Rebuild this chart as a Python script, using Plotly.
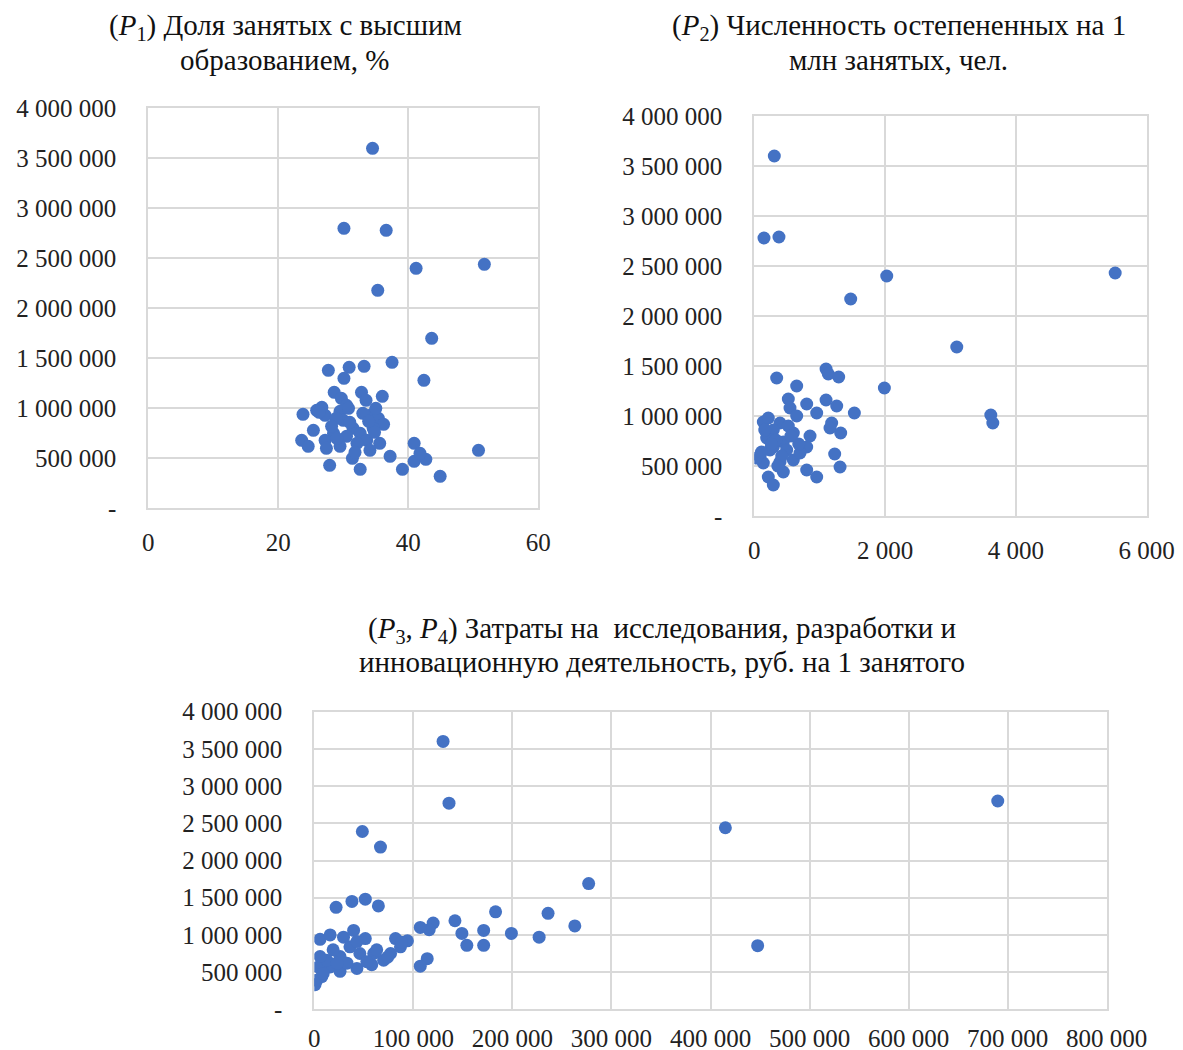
import plotly.graph_objects as go

# P1: share of employed with higher education, %  vs y
p1_x = [34.5, 30.1, 36.6, 41.2, 51.7, 35.3, 43.6, 37.5, 33.2, 30.9, 27.7, 30.1, 42.4, 28.6, 32.8,
        36.0, 33.5, 29.7, 30.5, 23.8, 25.9, 26.7, 27.2, 29.5, 30.0, 34.1, 35.4, 36.2, 25.4, 31.5,
        34.6, 28.5, 32.6, 30.5, 23.6, 24.6, 27.2, 33.6, 35.6, 27.4, 29.5, 32.1, 34.1, 40.9, 50.8,
        37.2, 31.4, 27.9, 32.6, 39.1, 40.9, 42.7, 44.9, 41.8, 28.9, 31.0, 33.0, 34.8, 29.0, 31.8,
        35.0, 26.3, 28.2, 30.8, 33.9]
p1_y = [3600000, 2800000, 2780000, 2400000, 2440000, 2180000, 1700000, 1460000, 1420000, 1410000,
        1380000, 1300000, 1280000, 1160000, 1160000, 1120000, 1080000, 1100000, 1030000, 940000,
        980000, 1010000, 930000, 970000, 880000, 930000, 900000, 840000, 780000, 800000,
        800000, 750000, 750000, 720000, 680000, 620000, 680000, 680000, 650000, 600000,
        620000, 650000, 580000, 650000, 580000, 520000, 500000, 430000, 390000, 390000,
        470000, 490000, 320000, 550000, 900000, 860000, 950000, 760000, 700000, 560000,
        1000000, 960000, 820000, 1000000, 870000]

# P2: number of degree holders per 1 mln employed vs y
p2_x = [306, 148, 377, 2025, 5518, 1474, 3096, 1097, 1132, 1290, 342, 648, 1989, 520, 801,
        1097, 1260, 954, 1530, 546, 648, 3616, 3647, 138, 214, 393, 1183, 1158, 1321, 852,
        597, 291, 189, 444, 801, 291, 87, 1229, 1311, 954, 801, 214, 291, 444, 597,
        138, 393, 699, 495, 240, 36, 330, 520, 160, 260, 420, 680, 110, 360, 560]
p2_y = [3600000, 2780000, 2790000, 2400000, 2430000, 2170000, 1690000, 1470000, 1420000, 1390000,
        1380000, 1300000, 1280000, 1170000, 1120000, 1160000, 1100000, 1030000, 1030000, 1080000,
        1000000, 1010000, 930000, 940000, 980000, 930000, 930000, 880000, 830000, 800000,
        830000, 860000, 780000, 740000, 690000, 690000, 590000, 620000, 490000, 390000,
        460000, 390000, 310000, 440000, 560000, 530000, 540000, 630000, 660000, 660000,
        580000, 760000, 900000, 860000, 720000, 600000, 720000, 640000, 500000, 800000]

# P3, P4: R&D and innovation expenditure, rub per 1 employed vs y
p3_x = [130000, 136000, 48500, 66800, 277000, 183000, 236000, 263000, 142000, 120000,
        116000, 107000, 149000, 154000, 171000, 171000, 199000, 227000, 22000, 38000,
        51500, 64700, 114000, 107000, 5800, 16000, 29500, 39700, 51500, 82000,
        94000, 87000, 77000, 70000, 58000, 43000, 26000, 16000, 4000, 7500,
        700, 2400, 12500, 26000, 36000, 46000, 60000, 19000, 33000, 53000,
        63000, 5800, 23000, 43000, 415000, 447600, 690000, 88000, 74000, 9000]
p3_y = [3600000, 2770000, 2390000, 2180000, 1690000, 1310000, 1290000, 1120000, 1190000, 1160000,
        1070000, 1100000, 1020000, 860000, 1060000, 860000, 1020000, 970000, 1370000, 1450000,
        1480000, 1390000, 680000, 580000, 940000, 1000000, 970000, 1060000, 950000, 950000,
        920000, 840000, 750000, 660000, 600000, 550000, 510000, 570000, 570000, 440000,
        330000, 390000, 660000, 710000, 840000, 750000, 750000, 800000, 620000, 640000,
        800000, 710000, 620000, 910000, 2440000, 855000, 2800000, 900000, 700000, 480000]

y_tickvals = [0, 500000, 1000000, 1500000, 2000000, 2500000, 3000000, 3500000, 4000000]
y_ticktext = ["-", "500 000", "1 000 000", "1 500 000", "2 000 000", "2 500 000",
              "3 000 000", "3 500 000", "4 000 000"]
p1_xticks = [0, 20, 40, 60]
p2_xticks = [0, 2000, 4000, 6000]
p2_xtext = ["0", "2 000", "4 000", "6 000"]
p3_xticks = [0, 100000, 200000, 300000, 400000, 500000, 600000, 700000, 800000]
p3_xtext = ["0", "100 000", "200 000", "300 000", "400 000", "500 000", "600 000",
            "700 000", "800 000"]

title_lines = [
    ["(<i>P</i><sub>1</sub>) Доля занятых с высшим", "образованием, %"],
    ["(<i>P</i><sub>2</sub>) Численность остепененных на 1", "млн занятых, чел."],
    ["(<i>P</i><sub>3</sub>, <i>P</i><sub>4</sub>) Затраты на  исследования, разработки и",
     "инновационную деятельность, руб. на 1 занятого"],
]

W, H = 1183, 1050
FONT = "Liberation Serif"
COLOR = "#4472C4"
GRID = "#d9d9d9"

fig = go.Figure()
fig.add_trace(go.Scatter(x=p1_x, y=p1_y, mode="markers", xaxis="x", yaxis="y",
                         marker=dict(color=COLOR, size=13), showlegend=False))
fig.add_trace(go.Scatter(x=p2_x, y=p2_y, mode="markers", xaxis="x2", yaxis="y2",
                         marker=dict(color=COLOR, size=13), showlegend=False))
fig.add_trace(go.Scatter(x=p3_x, y=p3_y, mode="markers", xaxis="x3", yaxis="y3",
                         marker=dict(color=COLOR, size=13), showlegend=False))


def px_dom(a, b):
    return [a / W, b / W]


def py_dom(top, bottom):
    return [1 - bottom / H, 1 - top / H]


tickfont = dict(family=FONT, size=25, color="#222")


def xax(dom, rng, tv, tt, anchor, standoff=11):
    return dict(domain=dom, range=rng, tickvals=tv, ticktext=tt, showgrid=True,
                gridcolor=GRID, gridwidth=1.5, zeroline=False, showline=True, linecolor=GRID,
                linewidth=2, mirror=True, ticks="", tickfont=tickfont, anchor=anchor,
                ticklabelstandoff=standoff, fixedrange=True)


def yax(dom, anchor):
    return dict(domain=dom, range=[0, 4000000], tickvals=y_tickvals, ticktext=y_ticktext,
                showgrid=True, gridcolor=GRID, gridwidth=1.5, zeroline=False, showline=True,
                linecolor=GRID, linewidth=2, mirror=True, ticks="", tickfont=tickfont,
                anchor=anchor, ticklabelstandoff=25, fixedrange=True)


fig.update_layout(
    width=W, height=H, margin=dict(l=0, r=0, t=0, b=0, autoexpand=False),
    paper_bgcolor="white", plot_bgcolor="white",
    xaxis=xax(px_dom(148.3, 538.3), [0, 60], p1_xticks, [str(v) for v in p1_xticks], "y"),
    yaxis=yax(py_dom(108.3, 508.3), "x"),
    xaxis2=xax(px_dom(754.3, 1146.7), [0, 6000], p2_xticks, p2_xtext, "y2"),
    yaxis2=yax(py_dom(116, 516), "x2"),
    xaxis3=xax(px_dom(314.3, 1106.7), [0, 800000], p3_xticks, p3_xtext, "y3", standoff=6),
    yaxis3=yax(py_dom(711.7, 1009.3), "x3"),
)

title_pos = [(285, 27, 60), (899, 27, 60), (662, 630, 662)]
for lines, (cx, y1, y2) in zip(title_lines, title_pos):
    for txt, cy in zip(lines, (y1, y2)):
        fig.add_annotation(text=txt, x=cx / W, y=1 - cy / H,
                           xref="paper", yref="paper", showarrow=False,
                           xanchor="center", yanchor="middle", align="center",
                           font=dict(family=FONT, size=29, color="#111"))

fig.write_html(
    "out.html",
    config={"displayModeBar": False},
    post_script="document.body.style.margin='0';document.documentElement.style.overflow='hidden';",
)
